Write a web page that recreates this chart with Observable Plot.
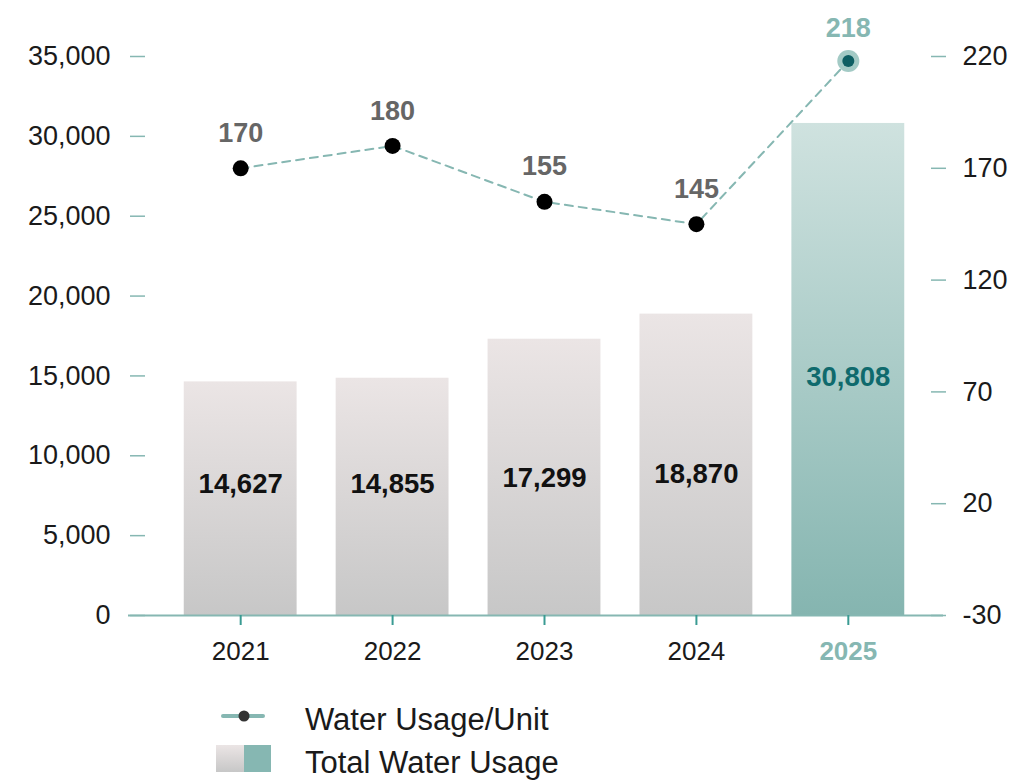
<!DOCTYPE html>
<html>
<head>
<meta charset="utf-8">
<script src="https://cdn.jsdelivr.net/npm/d3@7"></script>
<script src="https://cdn.jsdelivr.net/npm/@observablehq/plot@0.6"></script>
<style>
  html, body { margin: 0; padding: 0; background: #fff; }
  #wrap { position: relative; width: 1009px; height: 784px; font-family: "Liberation Sans", Arial, sans-serif; }
  #legend .item { position: absolute; display: flex; align-items: center; font-size: 31px; color: #1a1a1a; }
</style>
</head>
<body>
<div id="wrap">
  <div id="chart"></div>
  <div id="legend"></div>
</div>
<script>
const years = ["2021", "2022", "2023", "2024", "2025"];
const totalUsage = [14627, 14855, 17299, 18870, 30808];
const usagePerUnit = [170, 180, 155, 145, 218];
const leftTicks = [0, 5000, 10000, 15000, 20000, 25000, 30000, 35000];
const rightTicks = [-30, 20, 70, 120, 170, 220];
const seriesNames = ["Water Usage/Unit", "Total Water Usage"];

const TEAL = "#86b7b2";
const rightMin = -30, rightMax = 220, leftMax = 35000;
const toLeft = v => (v - rightMin) / (rightMax - rightMin) * leftMax;
const fromLeft = d => Math.round(d / leftMax * (rightMax - rightMin) + rightMin);

const data = years.map((year, i) => ({year, total: totalUsage[i], unit: usagePerUnit[i], unitL: toLeft(usagePerUnit[i]), last: i === years.length - 1}));
const past = data.filter(d => !d.last);
const latest = data.filter(d => d.last);

function gradients() {
  const defs = d3.create("svg:defs");
  const g1 = defs.append("linearGradient").attr("id", "grayGrad").attr("x1", 0).attr("y1", 0).attr("x2", 0).attr("y2", 1);
  g1.append("stop").attr("offset", "0%").attr("stop-color", "#ebe5e5");
  g1.append("stop").attr("offset", "100%").attr("stop-color", "#c7c7c7");
  const g2 = defs.append("linearGradient").attr("id", "tealGrad").attr("x1", 0).attr("y1", 0).attr("x2", 0).attr("y2", 1);
  g2.append("stop").attr("offset", "0%").attr("stop-color", "#cfe2df");
  g2.append("stop").attr("offset", "100%").attr("stop-color", "#85b5b0");
  return defs.node();
}

const font = "Liberation Sans, Arial, sans-serif";

const chart = Plot.plot({
  width: 1009,
  height: 690,
  marginTop: 56,
  marginBottom: 75,
  marginLeft: 128,
  marginRight: 66,
  style: {fontFamily: font, fontSize: "26px", color: "#1a1a1a", background: "transparent", overflow: "visible"},
  x: {type: "band", domain: years, range: [164, 924], paddingInner: 0.257, paddingOuter: 0.13, round: false, label: null},
  y: {domain: [0, leftMax], label: null},
  marks: [
    gradients,
    Plot.barY(past, {x: "year", y: "total", fill: "url(#grayGrad)"}),
    Plot.barY(latest, {x: "year", y: "total", fill: "url(#tealGrad)"}),
    Plot.ruleY([0], {stroke: TEAL, strokeWidth: 2}),
    Plot.axisY({anchor: "left", ticks: leftTicks, tickFormat: d3.format(","), tickSize: 15, tickPadding: 20, dx: 17, stroke: TEAL, fill: "#1a1a1a", fontSize: 27, label: null, strokeWidth: 1.5}),
    Plot.axisY({anchor: "right", ticks: rightTicks.map(toLeft), tickFormat: fromLeft, tickSize: 15, tickPadding: 17, dx: -13, stroke: TEAL, fill: "#1a1a1a", fontSize: 27, label: null, strokeWidth: 1.5}),
    Plot.axisX({ticks: years.slice(0, 4), tickSize: 10, tickPadding: 16, stroke: "#3a9b93", fill: "#1a1a1a", fontSize: 26, label: null, strokeWidth: 2}),
    Plot.axisX({ticks: years.slice(4), tickSize: 10, tickPadding: 16, stroke: "#3a9b93", fill: TEAL, fontSize: 26, fontWeight: "bold", label: null, strokeWidth: 2}),
    Plot.text(past, {x: "year", y: d => 6000 + d.total * 0.15, text: d => d3.format(",")(d.total), fontSize: 27.5, fontWeight: "bold", fill: "#111"}),
    Plot.text(latest, {x: "year", y: d => d.total / 2, text: d => d3.format(",")(d.total), fontSize: 27.5, fontWeight: "bold", fill: "#0f6a6d", dy: 8}),
    Plot.line(data, {x: "year", y: "unitL", stroke: TEAL, strokeWidth: 2, strokeDasharray: "8,6"}),
    Plot.dot(past, {x: "year", y: "unitL", r: 8, fill: "#000", stroke: "none"}),
    Plot.dot(latest, {x: "year", y: "unitL", r: 11, fill: "#a3cac5", stroke: "none"}),
    Plot.dot(latest, {x: "year", y: "unitL", r: 6, fill: "#0d5e62", stroke: "none"}),
    Plot.text(past, {x: "year", y: "unitL", text: "unit", dy: -35, fontSize: 27, fontWeight: "bold", fill: "#666"}),
    Plot.text(latest, {x: "year", y: "unitL", text: "unit", dy: -33, fontSize: 27, fontWeight: "bold", fill: TEAL})
  ]
});
document.getElementById("chart").appendChild(chart);

const legend = document.getElementById("legend");
legend.innerHTML = `
  <svg style="position:absolute;left:216px;top:704px" width="60" height="24">
    <line x1="7" x2="47" y1="12" y2="12" stroke="${TEAL}" stroke-width="4" stroke-linecap="round"/>
    <circle cx="28" cy="12" r="5.5" fill="#333"/>
  </svg>
  <div class="item" style="left:305px;top:700px;height:40px">${seriesNames[0]}</div>
  <svg style="position:absolute;left:216px;top:745px" width="56" height="27">
    <defs><linearGradient id="lg1" x1="0" y1="0" x2="0" y2="1"><stop offset="0%" stop-color="#ebe5e5"/><stop offset="100%" stop-color="#c7c7c7"/></linearGradient></defs>
    <rect x="0" y="0" width="28" height="27" fill="url(#lg1)"/>
    <rect x="28" y="0" width="27" height="27" fill="${TEAL}"/>
  </svg>
  <div class="item" style="left:305px;top:743px;height:40px">${seriesNames[1]}</div>
`;
</script>
</body>
</html>
